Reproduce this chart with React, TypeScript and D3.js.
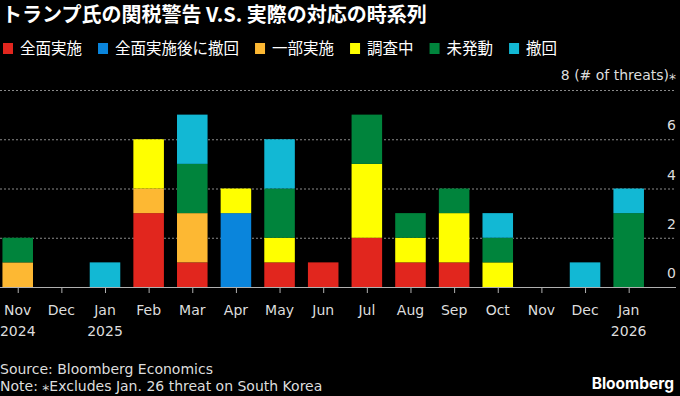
import React, { useEffect, useRef } from 'react';
import * as d3 from 'd3';

const months = ['Nov', 'Dec', 'Jan', 'Feb', 'Mar', 'Apr', 'May', 'Jun', 'Jul', 'Aug', 'Sep', 'Oct', 'Nov', 'Dec', 'Jan'];
const years = ['2024', '', '2025', '', '', '', '', '', '', '', '', '', '', '', '2026'];

const seriesNames = ['全面実施', '全面実施後に撤回', '一部実施', '調査中', '未発動', '撤回'];
const seriesColors = ['#e1261e', '#0a85dc', '#fdb833', '#ffff00', '#00843c', '#12b8d4'];

const fullImpl = [0, 0, 0, 3, 1, 0, 1, 1, 2, 1, 1, 0, 0, 0, 0];
const fullThenWithdrawn = [0, 0, 0, 0, 0, 3, 0, 0, 0, 0, 0, 0, 0, 0, 0];
const partialImpl = [1, 0, 0, 1, 2, 0, 0, 0, 0, 0, 0, 0, 0, 0, 0];
const investigating = [0, 0, 0, 2, 0, 1, 1, 0, 3, 1, 2, 1, 0, 0, 0];
const notTriggered = [1, 0, 0, 0, 2, 0, 2, 0, 2, 1, 1, 1, 0, 0, 3];
const withdrawn = [0, 0, 1, 0, 2, 0, 2, 0, 0, 0, 0, 1, 0, 1, 1];

const yTicks = [0, 2, 4, 6];
const yMax = 8;

const title = 'トランプ氏の関税警告 V.S. 実際の対応の時系列';
const unitLabel = '8 (# of threats)⁎';
const source = 'Source: Bloomberg Economics';
const note = 'Note: ⁎Excludes Jan. 26 threat on South Korea';

const latin = "'DejaVu Sans', sans-serif";
const cjk = "'Noto Sans CJK JP', 'Noto Sans', sans-serif";

function App() {
  const svgRef = useRef<SVGSVGElement>(null);

  useEffect(() => {
    document.body.style.margin = '0';
    document.body.style.background = '#000';
    const svg = d3.select(svgRef.current);
    svg.selectAll('*').remove();

    const W = 680;
    const keys = seriesNames;
    const cols = [fullImpl, fullThenWithdrawn, partialImpl, investigating, notTriggered, withdrawn];
    const table = months.map((m, i) => {
      const row: any = { idx: String(i) };
      keys.forEach((k, j) => { row[k] = cols[j][i]; });
      return row;
    });

    const x = d3.scaleBand()
      .domain(table.map(d => d.idx))
      .range([-4.1, 650.5])
      .paddingInner(0.3)
      .paddingOuter(0.15);

    const y = d3.scaleLinear().domain([0, yMax]).range([287, 90]);

    const color = d3.scaleOrdinal<string>().domain(keys).range(seriesColors);

    svg.append('rect').attr('width', W).attr('height', 396).attr('fill', '#000');

    // title
    svg.append('text')
      .attr('x', 2).attr('y', 22)
      .attr('fill', '#fff')
      .attr('font-family', cjk)
      .attr('font-weight', 'bold')
      .attr('font-size', 20)
      .text(title);

    // legend
    let lx = 3;
    const legend = svg.append('g');
    keys.forEach(k => {
      legend.append('rect')
        .attr('x', lx).attr('y', 43)
        .attr('width', 10).attr('height', 11)
        .attr('fill', color(k));
      const t = legend.append('text')
        .attr('x', lx + 17).attr('y', 54)
        .attr('fill', '#fff')
        .attr('font-family', cjk)
        .attr('font-size', 15.5)
        .text(k);
      const w = (t.node() as SVGTextElement).getComputedTextLength();
      lx += 17 + w + 16;
    });

    // gridlines
    svg.append('g')
      .selectAll('line')
      .data([2, 4, 6, 8])
      .enter().append('line')
      .attr('x1', 0).attr('x2', 676)
      .attr('y1', d => y(d) + 0.5).attr('y2', d => y(d) + 0.5)
      .attr('stroke', '#8a8a8a')
      .attr('stroke-width', 1)
      .attr('stroke-dasharray', '2,2');

    // y labels
    svg.append('g')
      .selectAll('text')
      .data(yTicks)
      .enter().append('text')
      .attr('x', 676).attr('y', d => y(d) - 9)
      .attr('text-anchor', 'end')
      .attr('fill', '#ddd')
      .attr('font-family', latin)
      .attr('font-size', 14)
      .text(d => d);

    svg.append('text')
      .attr('x', 676).attr('y', y(yMax) - 10)
      .attr('text-anchor', 'end')
      .attr('fill', '#ddd')
      .attr('font-family', latin)
      .attr('font-size', 14)
      .text(unitLabel);

    // bars
    const series = d3.stack().keys(keys).order(d3.stackOrderNone).offset(d3.stackOffsetNone)(table);
    svg.append('g')
      .selectAll('g')
      .data(series)
      .enter().append('g')
      .attr('fill', d => color(d.key))
      .selectAll('rect')
      .data(d => d.filter(v => v[1] - v[0] > 0))
      .enter().append('rect')
      .attr('x', (d: any) => x(d.data.idx)!)
      .attr('y', d => y(d[1]))
      .attr('width', x.bandwidth())
      .attr('height', d => y(d[0]) - y(d[1]));

    // x axis
    svg.append('line')
      .attr('x1', 0).attr('x2', 676)
      .attr('y1', 287.5).attr('y2', 287.5)
      .attr('stroke', '#b0b0b0')
      .attr('stroke-width', 1);

    const ticks = svg.append('g')
      .selectAll('g')
      .data(table)
      .enter().append('g')
      .attr('transform', d => `translate(${x(d.idx)! + x.bandwidth() / 2},0)`);
    ticks.append('line')
      .attr('x1', 0.5).attr('x2', 0.5)
      .attr('y1', 288).attr('y2', 293)
      .attr('stroke', '#b0b0b0');
    ticks.append('text')
      .attr('y', 315)
      .attr('text-anchor', 'middle')
      .attr('fill', '#ddd')
      .attr('font-family', latin)
      .attr('font-size', 14)
      .text((d, i) => months[i]);
    ticks.append('text')
      .attr('y', 336)
      .attr('text-anchor', 'middle')
      .attr('fill', '#ddd')
      .attr('font-family', latin)
      .attr('font-size', 14)
      .text((d, i) => years[i]);

    // footer
    svg.append('text')
      .attr('x', 0).attr('y', 374)
      .attr('fill', '#ddd')
      .attr('font-family', latin)
      .attr('font-size', 14)
      .text(source);
    svg.append('text')
      .attr('x', 0).attr('y', 391)
      .attr('fill', '#ddd')
      .attr('font-family', latin)
      .attr('font-size', 14)
      .text(note);
    svg.append('text')
      .attr('x', 674).attr('y', 389)
      .attr('text-anchor', 'end')
      .attr('fill', '#fff')
      .attr('font-family', "Inter, 'Noto Sans', sans-serif")
      .attr('font-weight', 'bold')
      .attr('font-size', 15.5)
      .text('Bloomberg');
  }, []);

  return (
    <svg ref={svgRef} width="680" height="396" style={{ display: 'block', background: '#000' }}></svg>
  );
}

export default App;
